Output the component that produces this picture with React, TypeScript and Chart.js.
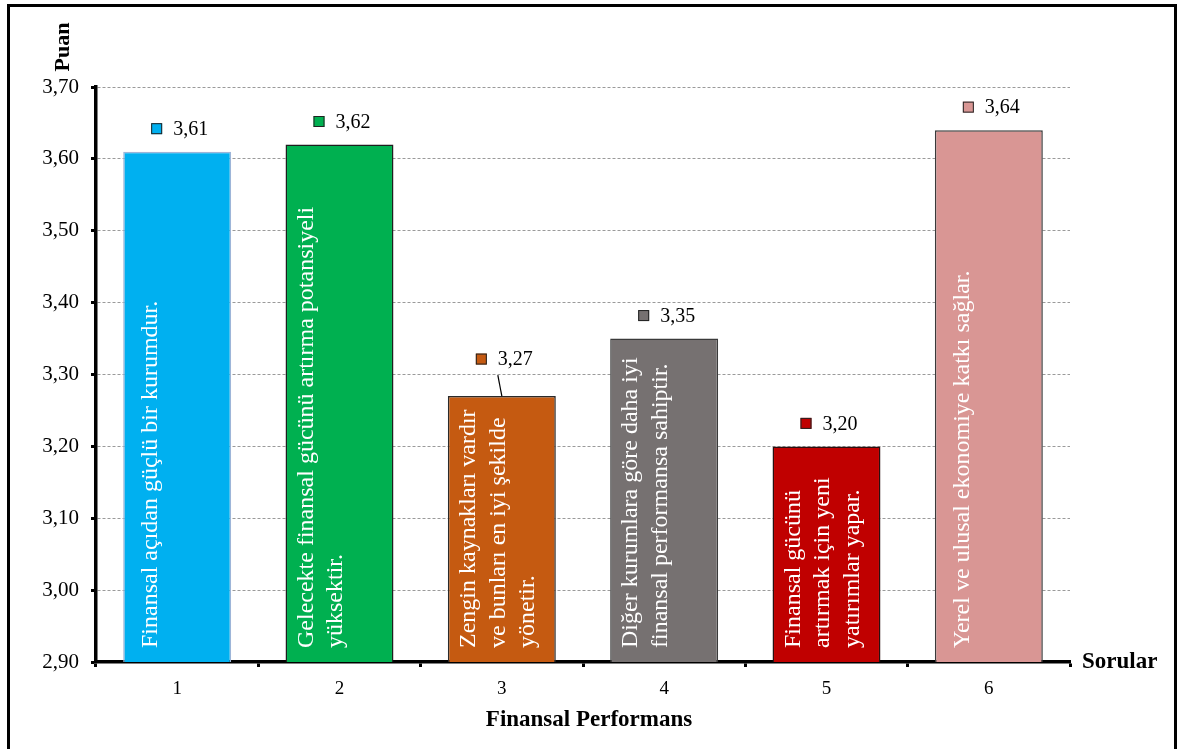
import React, { useEffect, useRef } from 'react';
import { Chart, registerables } from 'chart.js';

Chart.register(...registerables);

// ---- data ----
const categories = ['1', '2', '3', '4', '5', '6'];
const values = [3.61, 3.62, 3.27, 3.35, 3.2, 3.64];
const barTexts: string[][] = [
  ['Finansal açıdan güçlü bir kurumdur.'],
  ['Gelecekte finansal gücünü artırma potansiyeli', 'yüksektir.'],
  ['Zengin kaynakları vardır', 've bunları en iyi şekilde', 'yönetir.'],
  ['Diğer kurumlara göre daha iyi', 'finansal performansa sahiptir.'],
  ['Finansal gücünü', 'artırmak için yeni', 'yatırımlar yapar.'],
  ['Yerel ve ulusal ekonomiye katkı sağlar.'],
];
const yMin = 2.9;
const yMax = 3.7;
const yStep = 0.1;
const yTitle = 'Puan';
const xTitle = 'Finansal Performans';
const xEndTitle = 'Sorular';

// ---- styles ----
const barColors = ['#00B0F0', '#00B050', '#C55A11', '#767171', '#C00000', '#D99694'];
const barBorderColors = ['#9DB5D8', '#1E1E1E', '#2A2A2A', '#3A3A3A', '#2A1010', '#3A3A3A'];
const LABEL_EXTRA_LIFT = [0, 0, 14, 0, 0, 0];
const SERIF = "'Liberation Serif', 'Times New Roman', serif";

const fmt = (v: number) => Number(v).toFixed(2).replace('.', ',');

const overlayPlugin = {
  id: 'overlay',
  beforeDraw(chart: any) {
    const { ctx, width, height } = chart;
    ctx.save();
    ctx.fillStyle = '#ffffff';
    ctx.fillRect(0, 0, width, height);
    ctx.restore();
  },
  afterDatasetsDraw(chart: any) {
    const { ctx, chartArea } = chart;
    const meta = chart.getDatasetMeta(0);
    meta.data.forEach((bar: any, i: number) => {
      const { x, y, width } = bar.getProps(['x', 'y', 'width'], true);
      const left = x - width / 2;
      // text inside the bar
      const lines = barTexts[i];
      const first = lines.length === 1 ? 28 : 21;
      ctx.save();
      ctx.fillStyle = '#ffffff';
      ctx.font = `24px ${SERIF}`;
      ctx.textAlign = 'left';
      ctx.textBaseline = 'middle';
      lines.forEach((ln, j) => {
        ctx.save();
        ctx.translate(left + first + j * 29.5, chartArea.bottom - 14);
        ctx.rotate(-Math.PI / 2);
        ctx.fillText(ln, 0, 0);
        ctx.restore();
      });
      ctx.restore();

      // value label with marker
      const lift = 23 + LABEL_EXTRA_LIFT[i];
      const ly = y - lift;
      ctx.save();
      ctx.fillStyle = barColors[i];
      ctx.fillRect(x - 26, ly - 5.5, 11, 11);
      ctx.strokeStyle = '#222';
      ctx.lineWidth = 1;
      ctx.strokeRect(x - 25.5, ly - 5, 10, 10);
      ctx.fillStyle = '#000';
      ctx.font = `20px ${SERIF}`;
      ctx.textAlign = 'left';
      ctx.textBaseline = 'middle';
      ctx.fillText(fmt(values[i]), x - 4, ly + 1);
      if (LABEL_EXTRA_LIFT[i] > 0) {
        ctx.beginPath();
        ctx.moveTo(x - 4, ly + 16);
        ctx.lineTo(x, y);
        ctx.strokeStyle = '#000';
        ctx.lineWidth = 1.2;
        ctx.stroke();
      }
      ctx.restore();
    });
  },
  afterDraw(chart: any) {
    const { ctx, chartArea } = chart;
    ctx.save();
    ctx.fillStyle = '#000';
    // Puan
    ctx.save();
    ctx.font = `bold 22px ${SERIF}`;
    ctx.translate(63, 47);
    ctx.rotate(-Math.PI / 2);
    ctx.textAlign = 'center';
    ctx.textBaseline = 'middle';
    ctx.fillText(yTitle, 0, 0);
    ctx.restore();
    // Sorular
    ctx.font = `bold 23px ${SERIF}`;
    ctx.textAlign = 'left';
    ctx.textBaseline = 'middle';
    ctx.fillText(xEndTitle, chartArea.right + 12, chartArea.bottom);
    // Finansal Performans
    ctx.textAlign = 'center';
    ctx.fillText(xTitle, (chartArea.left + chartArea.right) / 2 + 6, 720);
    // outer frame
    ctx.strokeStyle = '#000';
    ctx.lineWidth = 3;
    ctx.beginPath();
    ctx.moveTo(8.5, 760);
    ctx.lineTo(8.5, 5.5);
    ctx.lineTo(1175.5, 5.5);
    ctx.lineTo(1175.5, 760);
    ctx.stroke();
    ctx.restore();
  },
};

export default function App() {
  const ref = useRef<HTMLCanvasElement | null>(null);
  useEffect(() => {
    if (!ref.current) return;
    const chart = new Chart(ref.current, {
      type: 'bar',
      data: {
        labels: categories,
        datasets: [
          {
            data: values,
            backgroundColor: barColors,
            borderColor: barBorderColors,
            borderWidth: 1.5,
            categoryPercentage: 1,
            barPercentage: 0.665,
          },
        ],
      },
      options: {
        animation: false,
        responsive: false,
        devicePixelRatio: 1,
        layout: { padding: { left: 0, top: 87, right: 107, bottom: 0 } },
        plugins: { legend: { display: false }, tooltip: { enabled: false }, title: { display: false } },
        scales: {
          x: {
            offset: true,
            afterFit: (s: any) => {
              s.height = 87;
            },
            grid: {
              offset: true,
              drawOnChartArea: false,
              drawTicks: true,
              tickLength: 5,
              tickWidth: 3,
              tickColor: '#000',
              color: '#000',
            },
            border: { display: true, color: '#000', width: 3.5 },
            ticks: { color: '#000', font: { family: SERIF, size: 19 }, padding: 11 },
          },
          y: {
            min: yMin,
            max: yMax,
            afterFit: (s: any) => {
              s.width = 96;
            },
            ticks: {
              stepSize: yStep,
              color: '#000',
              font: { family: SERIF, size: 21 },
              padding: 12,
              callback: (v: any) => fmt(Number(v)),
            },
            grid: {
              color: '#9A9A9A',
              lineWidth: 1,
              tickLength: 5,
              tickWidth: 3,
              tickColor: '#000',
              tickBorderDash: [],
            },
            border: { display: true, color: '#000', width: 3.5, dash: [3, 2] },
          },
        },
      },
      plugins: [overlayPlugin],
    } as any);
    return () => chart.destroy();
  }, []);
  return (
    <div style={{ position: 'fixed', left: 0, top: 0, width: 1177, height: 749, background: '#fff' }}>
      <canvas ref={ref} width={1177} height={749} style={{ display: 'block' }} />
    </div>
  );
}
